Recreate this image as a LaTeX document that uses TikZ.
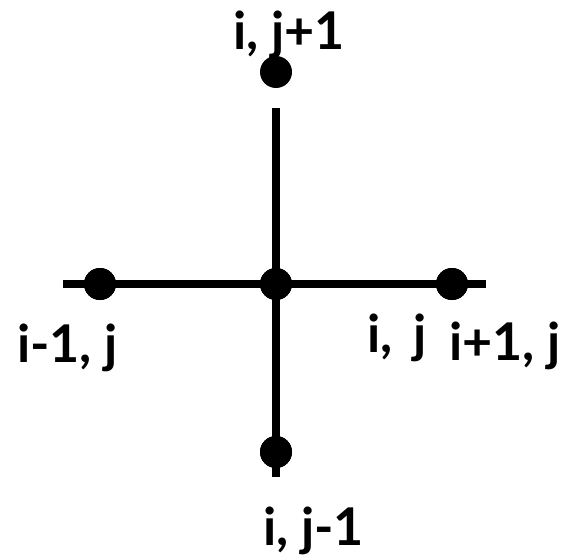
\documentclass[tikz,border=0pt]{standalone}
\usepackage{fontspec}
\setmainfont{Lato}
\tikzset{
  dot/.style={circle,fill=black,inner sep=0pt,minimum size=32pt},
  ln/.style={line width=7.5pt},
  lbl/.style={font=\fontsize{52}{58}\selectfont\bfseries,inner sep=0pt,anchor=base west}
}
\begin{document}
\begin{tikzpicture}[x=1pt,y=-1pt]
\useasboundingbox (0,0) rectangle (564,556);
\coordinate (vt) at (276,108);
\coordinate (vb) at (276,477);
\coordinate (hl) at (63,284);
\coordinate (hr) at (486,284);
\node[dot] (c) at (276,284) {};
\node[dot] (t) at (276,72) {};
\node[dot] (b) at (276,452) {};
\node[dot] (l) at (100,284) {};
\node[dot] (r) at (452,284) {};
\draw[ln] (vt) -- (c.center) -- (vb);
\draw[ln] (hl) -- (l.center) -- (c.center) -- (r.center) -- (hr);
\node[dot] at (c) {};
\node[dot] at (b) {};
\node[dot] at (l) {};
\node[dot] at (r) {};
\node[lbl] (tl) at (233,50) {i, j+1};
\node[lbl] (ll) at (17,362) {i-1, j};
\node[lbl] (cl) at (367,352) {i,\, j};
\node[lbl] (rl) at (449,360) {i+1, j};
\node[lbl] (bl) at (263,545) {i, j-1};
\end{tikzpicture}
\end{document}
